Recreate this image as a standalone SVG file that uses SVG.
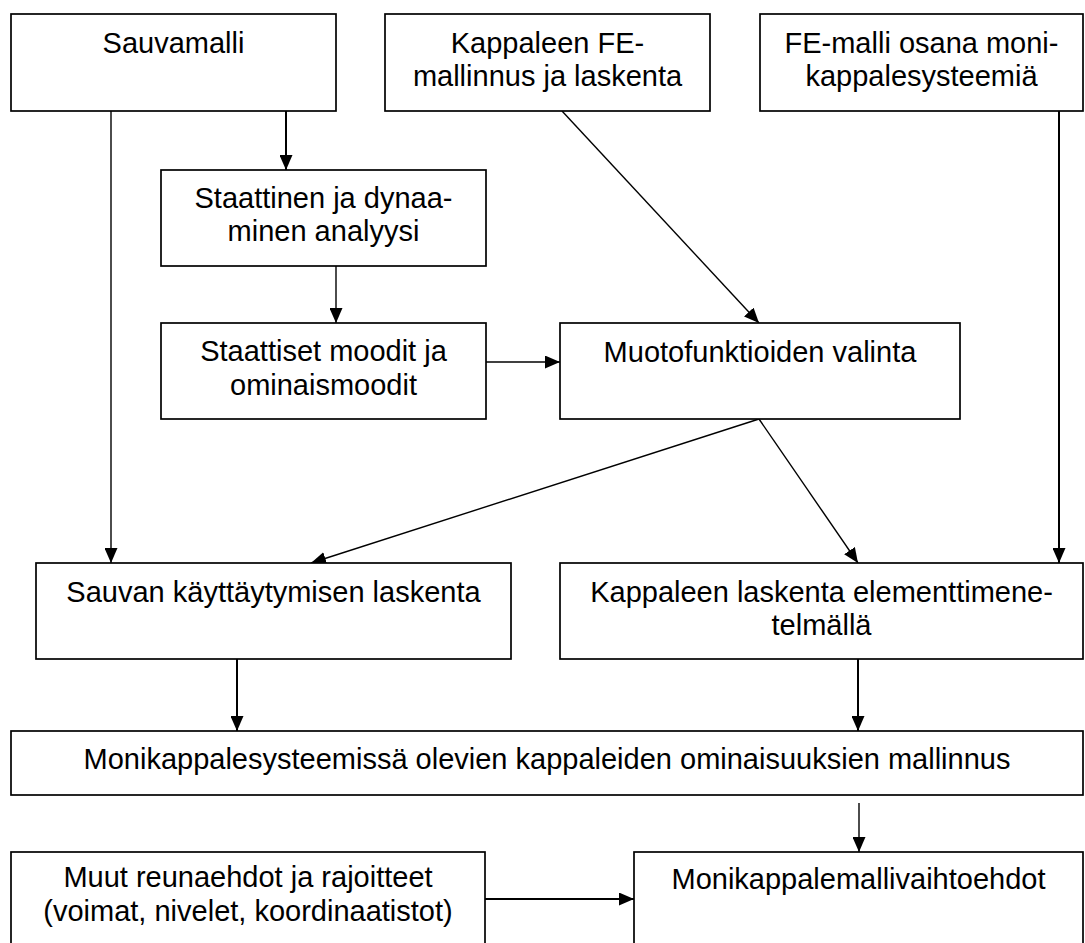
<svg xmlns="http://www.w3.org/2000/svg" width="1085" height="943" viewBox="0 0 1085 943">
<style>
.box{fill:#fff;stroke:#000;stroke-width:1.7}
.t{font-family:"Liberation Sans",Arial,sans-serif;font-size:29px;fill:#000;text-anchor:middle}
.c{stroke:#000;stroke-width:1.4;fill:none;marker-end:url(#ah)}
.k{stroke-width:2}
</style>
<defs>
<marker id="ah" markerUnits="userSpaceOnUse" markerWidth="15" markerHeight="13" refX="15" refY="6.5" orient="auto">
<path d="M0,0 L15,6.5 L0,13 z" fill="#000"/>
</marker>
</defs>
<rect width="1085" height="943" fill="#fff"/>
<g id="connectors">
<line class="c" x1="111" y1="111" x2="111" y2="563"/>
<line class="c k" x1="286" y1="111" x2="286" y2="170"/>
<line class="c" x1="562" y1="111" x2="759" y2="323"/>
<line class="c k" x1="1059" y1="111" x2="1059" y2="563"/>
<line class="c" x1="336" y1="266" x2="336" y2="323"/>
<line class="c" x1="486" y1="362" x2="560" y2="362"/>
<line class="c" x1="759" y1="419" x2="311" y2="563"/>
<line class="c" x1="759" y1="419" x2="858" y2="563"/>
<line class="c k" x1="237" y1="659" x2="237" y2="731"/>
<line class="c k" x1="858" y1="659" x2="858" y2="731"/>
<line class="c" x1="859" y1="803" x2="859" y2="852"/>
<line class="c k" x1="485" y1="899" x2="634" y2="899"/>
</g>
<g id="sauvamalli">
<rect class="box" x="11" y="14" width="325" height="97"/>
<text class="t" x="173.5" y="52.5">Sauvamalli</text>
</g>
<g id="kappaleen-fe">
<rect class="box" x="385" y="14" width="325" height="97"/>
<text class="t" x="547.5" y="52.5">Kappaleen FE-</text>
<text class="t" x="547.5" y="86">mallinnus ja laskenta</text>
</g>
<g id="fe-malli">
<rect class="box" x="760" y="14" width="323" height="97"/>
<text class="t" x="921.5" y="52.5">FE-malli osana moni-</text>
<text class="t" x="921.5" y="86">kappalesysteemiä</text>
</g>
<g id="staattinen">
<rect class="box" x="161" y="170" width="325" height="96"/>
<text class="t" x="323.5" y="207.5">Staattinen ja dynaa-</text>
<text class="t" x="323.5" y="241">minen analyysi</text>
</g>
<g id="staattiset">
<rect class="box" x="161" y="323" width="325" height="96"/>
<text class="t" x="323.5" y="361">Staattiset moodit ja</text>
<text class="t" x="323.5" y="394.5">ominaismoodit</text>
</g>
<g id="muotofunktiot">
<rect class="box" x="560" y="323" width="400" height="96"/>
<text class="t" x="760" y="361.5">Muotofunktioiden valinta</text>
</g>
<g id="sauvan-kayttaytyminen">
<rect class="box" x="36" y="563" width="475" height="96"/>
<text class="t" x="273.5" y="601.5">Sauvan käyttäytymisen laskenta</text>
</g>
<g id="kappaleen-laskenta">
<rect class="box" x="560" y="563" width="523" height="96"/>
<text class="t" x="821.5" y="601.5">Kappaleen laskenta elementtimene-</text>
<text class="t" x="821.5" y="635">telmällä</text>
</g>
<g id="monikappalesysteemi">
<rect class="box" x="11" y="731" width="1072" height="64"/>
<text class="t" x="547" y="768.5">Monikappalesysteemissä olevien kappaleiden ominaisuuksien mallinnus</text>
</g>
<g id="muut-reunaehdot">
<rect class="box" x="11" y="852" width="474" height="100"/>
<text class="t" x="248" y="887">Muut reunaehdot ja rajoitteet</text>
<text class="t" x="248" y="920.5">(voimat, nivelet, koordinaatistot)</text>
</g>
<g id="monikappalemallivaihtoehdot">
<rect class="box" x="634" y="852" width="449" height="100"/>
<text class="t" x="858.5" y="888.5">Monikappalemallivaihtoehdot</text>
</g>
</svg>
